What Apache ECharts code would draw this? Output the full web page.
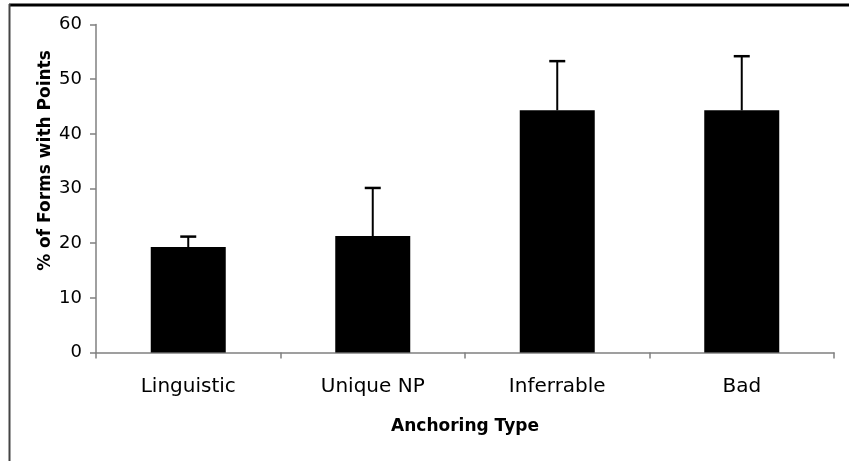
<!DOCTYPE html>
<html>
<head>
<meta charset="utf-8">
<script src="https://cdn.jsdelivr.net/npm/echarts@6/dist/echarts.min.js"></script>
<style>
html,body{margin:0;padding:0;background:#fff;}
#c{width:849px;height:461px;}
</style>
</head>
<body>
<div id="c"></div>
<script>
const categories = ['Linguistic', 'Unique NP', 'Inferrable', 'Bad'];
const values = [19.3, 21.3, 44.3, 44.3];
const errorTops = [21.2, 30.1, 53.3, 54.2];
const yTicks = [0, 10, 20, 30, 40, 50, 60];

const chart = echarts.init(document.getElementById('c'), null, {renderer: 'canvas'});
const FONT = 'DejaVu Sans';

const option = {
  backgroundColor: '#fff',
  animation: false,
  grid: {left: 96, right: 15, top: 24.5, bottom: 108.5},
  graphic: [
    {type: 'line', shape: {x1: 9, y1: 5, x2: 849, y2: 5}, style: {stroke: '#000', lineWidth: 3}},
    {type: 'line', shape: {x1: 9.5, y1: 4, x2: 9.5, y2: 461}, style: {stroke: '#444', lineWidth: 2}}
  ],
  xAxis: {
    type: 'category',
    data: categories,
    name: 'Anchoring Type',
    nameLocation: 'middle',
    nameGap: 66,
    nameMoveOverlap: false,
    nameTextStyle: {fontFamily: FONT, fontWeight: 'bold', fontSize: 17, color: '#000'},
    axisLine: {lineStyle: {color: '#808080', width: 1.5}},
    axisTick: {show: true, length: 6, inside: false, alignWithLabel: false, lineStyle: {color: '#808080', width: 1.5}},
    axisLabel: {fontFamily: FONT, fontSize: 20, color: '#000', margin: 24},
    splitLine: {show: false}
  },
  yAxis: {
    type: 'value',
    min: yTicks[0],
    max: yTicks[yTicks.length - 1],
    interval: 10,
    name: '% of Forms with Points',
    nameLocation: 'middle',
    nameGap: 42,
    nameMoveOverlap: false,
    nameRotate: 90,
    nameTextStyle: {fontFamily: FONT, fontWeight: 'bold', fontSize: 17, color: '#000', padding: [0, 0, 0, 56]},
    axisLine: {show: true, lineStyle: {color: '#808080', width: 1.5}},
    axisTick: {show: true, length: 6, lineStyle: {color: '#808080', width: 1.5}},
    axisLabel: {fontFamily: FONT, fontSize: 18, color: '#000', margin: 14},
    splitLine: {show: false}
  },
  series: [
    {
      type: 'bar',
      data: values,
      barWidth: 75,
      itemStyle: {color: '#000'},
      z: 2
    },
    {
      type: 'custom',
      data: categories.map((c, i) => [i, values[i], errorTops[i]]),
      z: 3,
      renderItem: function (params, api) {
        const base = api.coord([api.value(0), api.value(1)]);
        const top = api.coord([api.value(0), api.value(2)]);
        const hw = 8;
        return {
          type: 'group',
          children: [
            {type: 'line', shape: {x1: base[0], y1: base[1], x2: top[0], y2: top[1]}, style: {stroke: '#000', lineWidth: 2}},
            {type: 'line', shape: {x1: top[0] - hw, y1: top[1], x2: top[0] + hw, y2: top[1]}, style: {stroke: '#000', lineWidth: 2.5}}
          ]
        };
      }
    }
  ]
};
chart.setOption(option);
</script>
</body>
</html>
